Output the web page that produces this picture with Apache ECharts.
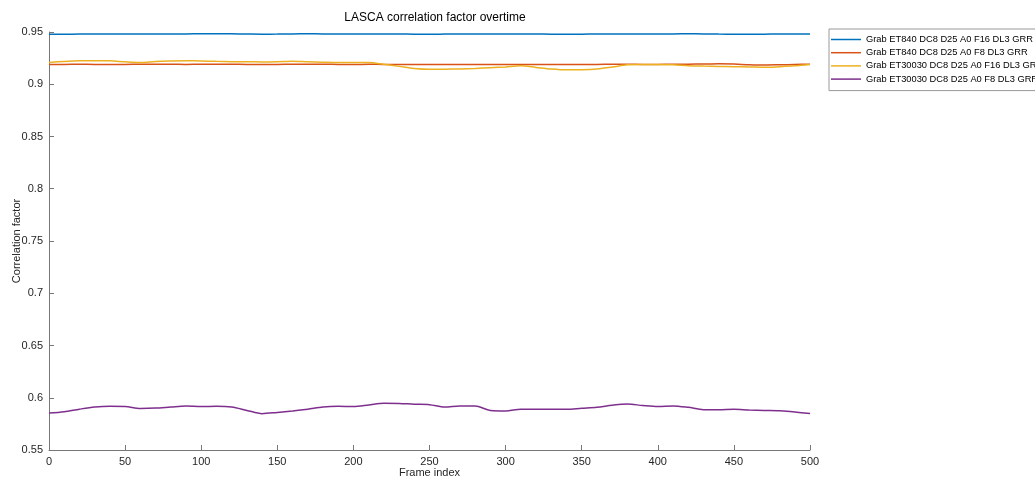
<!DOCTYPE html>
<html>
<head>
<meta charset="utf-8">
<script src="https://cdn.jsdelivr.net/npm/echarts@6/dist/echarts.min.js"></script>
<style>html,body{margin:0;padding:0;background:#fff;}#c{width:1035px;height:481px;}</style>
</head>
<body>
<div id="c"></div>
<script>
const frames = [0,10,20,30,40,50,60,70,80,90,100,110,120,130,140,150,160,170,180,190,200,210,220,230,240,250,260,270,280,290,300,310,320,330,340,350,360,370,380,390,400,410,420,430,440,450,460,470,480,490,500];
const seriesNames = ["Grab ET840 DC8 D25 A0 F16 DL3 GRR","Grab ET840 DC8 D25 A0 F8 DL3 GRR","Grab ET30030 DC8 D25 A0 F16 DL3 GRR","Grab ET30030 DC8 D25 A0 F8 DL3 GRR"];
const blueValues = [0.9478,0.9479,0.9480,0.9481,0.9482,0.9482,0.9481,0.9480,0.9481,0.9482,0.9483,0.9484,0.9483,0.9481,0.9479,0.9480,0.9482,0.9483,0.9482,0.9481,0.9480,0.9481,0.9482,0.9481,0.9479,0.9478,0.9480,0.9482,0.9481,0.9480,0.9481,0.9482,0.9481,0.9479,0.9478,0.9479,0.9481,0.9482,0.9481,0.9480,0.9481,0.9482,0.9483,0.9482,0.9480,0.9479,0.9478,0.9479,0.9481,0.9481,0.9481];
const orangeValues = [0.9188,0.9190,0.9191,0.9190,0.9189,0.9190,0.9191,0.9192,0.9191,0.9190,0.9191,0.9192,0.9191,0.9190,0.9189,0.9190,0.9191,0.9191,0.9192,0.9190,0.9189,0.9191,0.9190,0.9189,0.9188,0.9188,0.9189,0.9190,0.9190,0.9189,0.9188,0.9188,0.9189,0.9190,0.9190,0.9189,0.9190,0.9191,0.9191,0.9190,0.9190,0.9191,0.9192,0.9194,0.9195,0.9193,0.9187,0.9184,0.9186,0.9189,0.9192];
const yellowValues = [0.9209,0.9218,0.9224,0.9225,0.9224,0.9215,0.9209,0.9218,0.9222,0.9224,0.9223,0.9219,0.9216,0.9215,0.9214,0.9216,0.9220,0.9215,0.9211,0.9208,0.9209,0.9208,0.9191,0.9171,0.9151,0.9143,0.9144,0.9146,0.9151,0.9158,0.9166,0.9176,0.9161,0.9146,0.9138,0.9139,0.9146,0.9164,0.9186,0.9190,0.9189,0.9186,0.9178,0.9174,0.9171,0.9168,0.9166,0.9162,0.9168,0.9176,0.9189];
const purpleValues = [0.5854,0.5867,0.5891,0.5911,0.5919,0.5917,0.5898,0.5901,0.5911,0.5920,0.5916,0.5918,0.5911,0.5879,0.5848,0.5860,0.5874,0.5891,0.5912,0.5918,0.5916,0.5931,0.5948,0.5946,0.5938,0.5934,0.5911,0.5921,0.5921,0.5878,0.5874,0.5891,0.5891,0.5891,0.5889,0.5899,0.5908,0.5928,0.5940,0.5926,0.5916,0.5922,0.5908,0.5886,0.5886,0.5890,0.5883,0.5879,0.5876,0.5863,0.5850];
const yTicks = [0.55,0.6,0.65,0.7,0.75,0.8,0.85,0.9,0.95];
const xTicks = [0,50,100,150,200,250,300,350,400,450,500];

const colors = ['#0072BD','#D95319','#EDB120','#7E2F8E'];
const allValues = [blueValues, orangeValues, yellowValues, purpleValues];
const font = 'Liberation Sans, Arial, Helvetica, sans-serif';
const chart = echarts.init(document.getElementById('c'));
chart.setOption({
  animation: false,
  backgroundColor: '#fff',
  title: {
    text: 'LASCA correlation factor overtime',
    left: 430, top: 7, textAlign: 'center',
    textStyle: {fontSize: 12, fontWeight: 'normal', color: '#000', fontFamily: font}
  },
  grid: {left: 49, right: 225, top: 32, bottom: 31, containLabel: false, outerBoundsMode: 'none'},
  legend: {
    orient: 'vertical', left: 829, top: 29,
    icon: 'rect', itemWidth: 30, itemHeight: 1.5, itemGap: 4.2,
    padding: [6, 4, 7, 2],
    borderColor: '#999', borderWidth: 1, backgroundColor: '#fff',
    textStyle: {fontSize: 9.3, color: '#000', fontFamily: font},
    data: seriesNames
  },
  xAxis: {
    type: 'value', min: 0, max: 500, interval: 50,
    name: 'Frame index', nameLocation: 'middle', nameGap: 17, nameMoveOverlap: false,
    nameTextStyle: {fontSize: 11, color: '#262626', fontFamily: font},
    axisLine: {lineStyle: {color: '#777', width: 1}},
    axisTick: {inside: true, length: 5, lineStyle: {color: '#777'}},
    axisLabel: {fontSize: 11, color: '#262626', fontFamily: font, margin: 6,
      formatter: v => xTicks.includes(v) ? String(v) : ''},
    splitLine: {show: false}
  },
  yAxis: {
    type: 'value', min: 0.55, max: 0.95, interval: 0.05,
    name: 'Correlation factor', nameLocation: 'middle', nameGap: 27, nameRotate: 90, nameMoveOverlap: false,
    nameTextStyle: {fontSize: 11, color: '#262626', fontFamily: font},
    axisLine: {show: true, lineStyle: {color: '#777', width: 1}},
    axisTick: {show: true, inside: true, length: 5, lineStyle: {color: '#777'}},
    axisLabel: {fontSize: 11, color: '#262626', fontFamily: font, margin: 6,
      formatter: v => String(+v.toFixed(2))},
    splitLine: {show: false}
  },
  series: seriesNames.map((n, i) => ({
    name: n, type: 'line', symbol: 'none', smooth: 0.3,
    lineStyle: {color: colors[i], width: 1.5},
    itemStyle: {color: colors[i]},
    data: frames.map((f, j) => [f, allValues[i][j]])
  }))
});
</script>
</body>
</html>
